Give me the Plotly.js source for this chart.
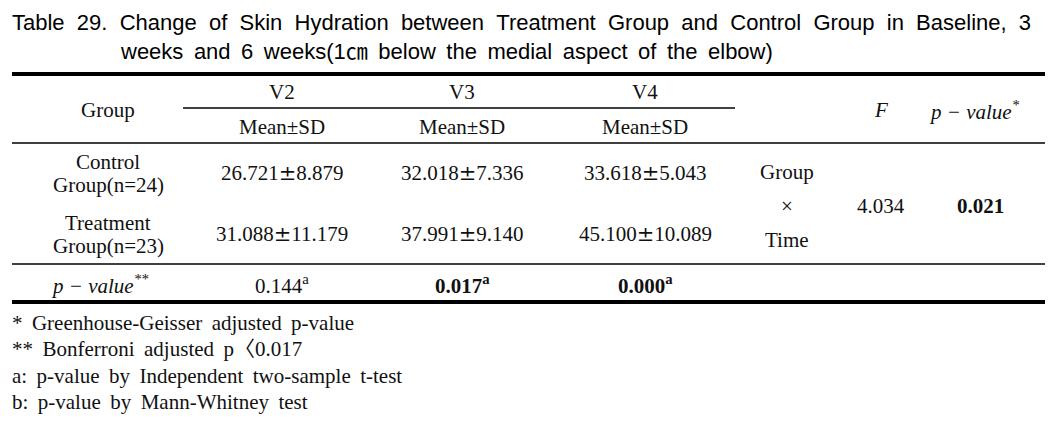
<!DOCTYPE html>
<html><head><meta charset="utf-8">
<script src="https://cdn.plot.ly/plotly-3.0.1.min.js"></script>
<style>html,body{margin:0;padding:0;background:#fff}#c{width:1057px;height:422px}</style>
</head><body><div id="c"></div>
<script>
// ---- data ----
const titleLines = [
  "Table 29. Change of Skin Hydration between Treatment Group and Control Group in Baseline, 3",
  "weeks and 6 weeks(1㎝ below the medial aspect of the elbow)"
];
const visits = ["V2", "V3", "V4"];
const statLabel = "Mean±SD";
const groups = [["Control", "Group(n=24)"], ["Treatment", "Group(n=23)"]];
const controlValues = ["26.721±8.879", "32.018±7.336", "33.618±5.043"];
const treatmentValues = ["31.088±11.179", "37.991±9.140", "45.100±10.089"];
const pValuesByVisit = ["0.144", "0.017", "0.000"];
const pValueBold = [false, true, true];
const pValueMark = ["a", "a", "a"];
const effectLabel = ["Group", "×", "Time"];
const fValue = "4.034";
const interactionP = "0.021";
const footnotes = [
  "* Greenhouse-Geisser adjusted p-value",
  "** Bonferroni adjusted p〈0.017",
  "a: p-value by Independent two-sample t-test",
  "b: p-value by Mann-Whitney test"
];

// ---- layout ----
const SERIF = "'Liberation Serif', 'DejaVu Serif', 'Noto Sans CJK KR', serif";
const SANS = "'Liberation Sans', 'Noto Sans CJK KR', sans-serif";
const fs = 21;
const colX = [282, 462, 645];
const ann = [];
function T(x, y, text, opt) {
  opt = opt || {};
  const font = Object.assign({family: SERIF, size: fs, color: "#111"}, opt.font || {});
  ann.push(Object.assign({
    x: x, y: y, xref: "x", yref: "y", text: text, showarrow: false,
    xanchor: "center", yanchor: "middle"
  }, opt, {font: font}));
}
const pm = s => s.replace("±", "<span style=\"font-family:'DejaVu Serif'\">±</span>");
const sp = (s, sep) => s.split(" ").join(sep);
// title
T(10, 22, sp(titleLines[0], "&nbsp;&nbsp;"), {xanchor: "left", font: {family: SANS, size: 22, color: "#000"}});
T(118, 51, sp(titleLines[1], "&nbsp;\u2009"), {xanchor: "left", font: {family: SANS, size: 22, color: "#000"}});
// header
T(108, 110, "Group");
visits.forEach((v, i) => { T(colX[i], 92, v); T(colX[i], 127, statLabel); });
T(881, 110, "F", {font: {style: "italic"}});
T(974, 110, "p − value<sup>*</sup>", {font: {style: "italic"}});
// body
T(108, 162, groups[0][0]); T(108, 185, groups[0][1]);
T(108, 223, groups[1][0]); T(108, 246, groups[1][1]);
controlValues.forEach((v, i) => T(colX[i], 173, pm(v)));
treatmentValues.forEach((v, i) => T(colX[i], 234, pm(v)));
T(787, 172, effectLabel[0]); T(787, 206, effectLabel[1]); T(787, 240, effectLabel[2]);
T(881, 206, fValue);
T(980, 206, interactionP, {font: {weight: "bold"}});
T(100, 284, "p − value<sup>**</sup>", {font: {style: "italic"}});
pValuesByVisit.forEach((v, i) => {
  T(colX[i], 284, v + "<sup>" + pValueMark[i] + "</sup>", {font: {weight: pValueBold[i] ? "bold" : "normal"}});
});
// footnotes
footnotes.forEach((f, i) => T(10, 323 + i * 26.3, sp(f, " \u2009"), {xanchor: "left", font: {size: 21}}));

const L = (x0, x1, y, w) => ({type: "line", xref: "x", yref: "y", x0: x0, x1: x1, y0: y, y1: y, line: {color: "#000", width: w}});
const shapes = [L(12, 1045, 74, 4), L(183, 735, 108, 1.3), L(12, 1045, 143, 1.3), L(12, 1045, 264, 1.3), L(12, 1045, 302, 4)];

Plotly.newPlot("c", [], {
  width: 1057, height: 422, margin: {l: 0, r: 0, t: 0, b: 0},
  paper_bgcolor: "#fff", plot_bgcolor: "#fff",
  xaxis: {range: [0, 1057], visible: false, fixedrange: true},
  yaxis: {range: [422, 0], visible: false, fixedrange: true},
  annotations: ann, shapes: shapes, showlegend: false
}, {staticPlot: true});
</script></body></html>
